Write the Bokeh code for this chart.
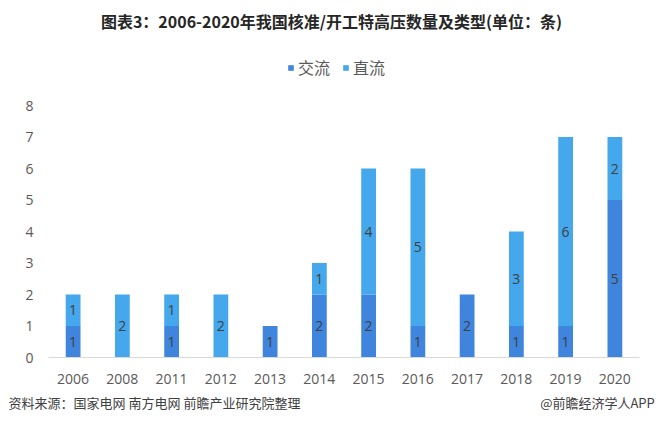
from bokeh.plotting import figure
from bokeh.models import (ColumnDataSource, Range1d, Legend, LegendItem,
                          LinearAxis, FixedTicker, Label)
from bokeh.core.properties import value
from bokeh.embed import file_html
from bokeh.resources import INLINE

years = ["2006", "2008", "2011", "2012", "2013", "2014", "2015", "2016", "2017", "2018", "2019", "2020"]
ac = [1, 0, 1, 0, 1, 2, 2, 1, 2, 1, 1, 5]   # 交流
dc = [1, 2, 1, 2, 0, 1, 4, 5, 0, 3, 6, 2]   # 直流
series_names = ["交流", "直流"]
y_ticks = [0, 1, 2, 3, 4, 5, 6, 7, 8]
title_text = "图表3：2006-2020年我国核准/开工特高压数量及类型(单位：条)"
source_text = "资料来源：国家电网 南方电网 前瞻产业研究院整理"
brand_text = "@前瞻经济学人APP"

C_AC = "#3F84DD"
C_DC = "#45A7EC"
CJK = "Noto Sans CJK SC"
NUM = "Open Sans"

# category slots: one unit per year
xs = [i + 0.5 for i in range(len(years))]

# frame covers the whole top of the figure (invisible), so legend and title sit inside it
Y_TOP = 357 / 31.5
p = figure(width=656, height=414, x_range=Range1d(0, len(years)), y_range=Range1d(0, Y_TOP),
           output_backend="svg", toolbar_location=None, title=None,
           min_border_left=48, min_border_right=17, min_border_top=0, min_border_bottom=57)
p.outline_line_color = None
p.xgrid.grid_line_color = None
p.ygrid.grid_line_color = None

src = ColumnDataSource(dict(x=xs, year=years, ac=ac, dc=dc))
rs = p.vbar_stack(["ac", "dc"], x="x", width=0.3, color=[C_AC, C_DC], source=src, line_color=None)

# segment labels
lx, ly, lt = [], [], []
for x, a, d in zip(xs, ac, dc):
    if a:
        lx.append(x); ly.append(a / 2); lt.append(str(a))
    if d:
        lx.append(x); ly.append(a + d / 2); lt.append(str(d))
lsrc = ColumnDataSource(dict(x=lx, y=ly, t=lt))
p.text(x="x", y="y", text="t", source=lsrc, text_align="center", text_baseline="middle",
       text_font=value(NUM), text_font_size="14px", text_color="#404040")

# axes
p.xaxis.ticker = FixedTicker(ticks=xs)
p.xaxis.major_label_overrides = {x: y for x, y in zip(xs, years)}
p.xaxis.axis_line_color = "#D9D9D9"
p.xaxis.major_tick_line_color = None
p.xaxis.major_tick_out = 0
p.xaxis.minor_tick_line_color = None
p.xaxis.minor_tick_out = 0
p.xaxis.major_label_standoff = 16
p.xaxis.major_label_text_font = NUM
p.xaxis.major_label_text_font_size = "14px"
p.xaxis.major_label_text_color = "#595959"

p.yaxis.ticker = FixedTicker(ticks=y_ticks)
p.yaxis.axis_line_color = None
p.yaxis.major_tick_line_color = None
p.yaxis.major_tick_out = 0
p.yaxis.minor_tick_line_color = None
p.yaxis.minor_tick_out = 0
p.yaxis.major_label_standoff = 15
p.yaxis.major_label_text_font = NUM
p.yaxis.major_label_text_font_size = "14px"
p.yaxis.major_label_text_color = "#595959"

# legend
legend = Legend(items=[LegendItem(label=series_names[0], renderers=[rs[0]]),
                       LegendItem(label=series_names[1], renderers=[rs[1]])],
                orientation="horizontal", location=(239, 278),
                glyph_width=7, glyph_height=7, label_standoff=4, spacing=12,
                padding=0, margin=0, border_line_alpha=0, background_fill_alpha=0,
                label_text_font=CJK, label_text_font_size="16px", label_text_color="#595959",
                label_height=18)
p.add_layout(legend, "center")

# title, drawn inside the invisible upper part of the frame
px_x = len(years) / 591.0
px_y = 8 / 252.0
p.add_layout(Label(x=(331 - 48) * px_x, y=(357 - 20) * px_y, text=title_text,
                   text_align="center", text_baseline="middle", text_font=CJK,
                   text_font_size="16px", text_font_style="bold", text_color="#262626"))

# footer line: an extra bottom axis whose range is in pixels across the frame
p.extra_x_ranges = {"foot": Range1d(48, 639)}
foot = LinearAxis(x_range_name="foot", ticker=FixedTicker(ticks=[154, 597]),
                  major_label_overrides={154: source_text, 597: brand_text})
foot.axis_line_color = None
foot.major_tick_line_color = None
foot.major_tick_out = 0
foot.minor_tick_line_color = None
foot.minor_tick_out = 0
foot.major_label_standoff = 6
foot.major_label_text_font = CJK
foot.major_label_text_font_size = "13px"
foot.major_label_text_color = "#404040"
p.add_layout(foot, "below")

open("out.html", "w").write(file_html(p, INLINE))
